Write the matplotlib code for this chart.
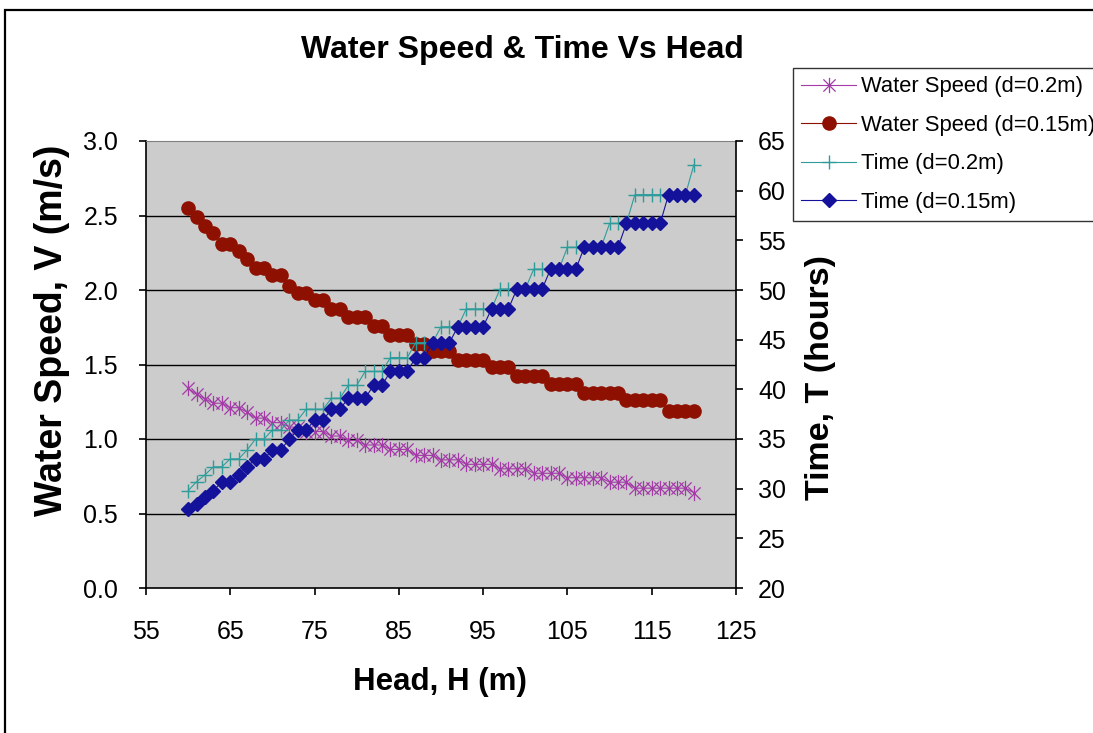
import numpy as np
import matplotlib
matplotlib.use("Agg")
import matplotlib.pyplot as plt
from matplotlib.path import Path
from matplotlib.patches import Rectangle

plt.rcParams["font.family"] = ["Liberation Sans", "DejaVu Sans"]

# ---- data (head 60..120 m, 1 m steps) ----
head = np.arange(60, 121)

speed_02 = [1.34, 1.30, 1.27, 1.24, 1.24, 1.21, 1.21, 1.18, 1.14, 1.14,
            1.11, 1.11, 1.08, 1.08, 1.05, 1.05, 1.05, 1.02, 1.02, 0.99,
            0.99, 0.96, 0.96, 0.96, 0.93, 0.93, 0.93, 0.89, 0.89, 0.89,
            0.86, 0.86, 0.86, 0.83, 0.83, 0.83, 0.83, 0.80, 0.80, 0.80,
            0.80, 0.77, 0.77, 0.77, 0.77, 0.74, 0.74, 0.74, 0.74, 0.74,
            0.71, 0.71, 0.71, 0.67, 0.67, 0.67, 0.67, 0.67, 0.67, 0.67,
            0.64]

speed_015 = [2.55, 2.49, 2.43, 2.38, 2.31, 2.31, 2.26, 2.21, 2.15, 2.15,
             2.10, 2.10, 2.03, 1.98, 1.98, 1.93, 1.93, 1.87, 1.87, 1.82,
             1.82, 1.82, 1.76, 1.76, 1.70, 1.70, 1.70, 1.64, 1.64, 1.59,
             1.59, 1.59, 1.53, 1.53, 1.53, 1.53, 1.48, 1.48, 1.48, 1.42,
             1.42, 1.42, 1.42, 1.37, 1.37, 1.37, 1.37, 1.31, 1.31, 1.31,
             1.31, 1.31, 1.26, 1.26, 1.26, 1.26, 1.26, 1.19, 1.19, 1.19,
             1.19]

time_02 = [29.8, 30.7, 31.4, 32.2, 32.2, 33.0, 33.0, 33.9, 35.0, 35.0,
           35.9, 35.9, 36.9, 36.9, 38.0, 38.0, 38.0, 39.1, 39.1, 40.4,
           40.4, 41.8, 41.8, 41.8, 43.2, 43.2, 43.2, 44.7, 44.7, 44.7,
           46.3, 46.3, 46.3, 48.1, 48.1, 48.1, 48.1, 50.1, 50.1, 50.1,
           50.1, 52.1, 52.1, 52.1, 52.1, 54.3, 54.3, 54.3, 54.3, 54.3,
           56.7, 56.7, 56.7, 59.6, 59.6, 59.6, 59.6, 59.6, 59.6, 59.6,
           62.6]

time_015 = [28.0, 28.5, 29.2, 29.8, 30.7, 30.7, 31.4, 32.2, 33.0, 33.0,
            33.9, 33.9, 35.0, 35.9, 35.9, 36.9, 36.9, 38.0, 38.0, 39.1,
            39.1, 39.1, 40.4, 40.4, 41.8, 41.8, 41.8, 43.2, 43.2, 44.7,
            44.7, 44.7, 46.3, 46.3, 46.3, 46.3, 48.1, 48.1, 48.1, 50.1,
            50.1, 50.1, 50.1, 52.1, 52.1, 52.1, 52.1, 54.3, 54.3, 54.3,
            54.3, 54.3, 56.7, 56.7, 56.7, 56.7, 56.7, 59.6, 59.6, 59.6,
            59.6]

labels = ["Water Speed (d=0.2m)", "Water Speed (d=0.15m)",
          "Time (d=0.2m)", "Time (d=0.15m)"]

# ---- styling ----
W, H = 1093, 733
MAGENTA, RED, TEAL, NAVY = "#a33aa8", "#8e1000", "#2f9c9c", "#14129b"
PLOT_BG = "#cbcccb"

# excel-like asterisk marker: an X with a vertical bar
star = Path([(-0.8, -0.8), (0.8, 0.8), (-0.8, 0.8), (0.8, -0.8), (0, -1), (0, 1)],
            [Path.MOVETO, Path.LINETO, Path.MOVETO, Path.LINETO, Path.MOVETO, Path.LINETO])

fig = plt.figure(figsize=(W / 100, H / 100), dpi=100)
L, R, T, B = 146, 736, 141, 588
ax = fig.add_axes([L / W, 1 - B / H, (R - L) / W, (B - T) / H])
ax2 = ax.twinx()

ax.set_facecolor(PLOT_BG)
ax.set_xlim(55, 125)
ax.set_ylim(0, 3.0)
ax2.set_ylim(20, 65)
ax.set_xticks(np.arange(55, 126, 10))
ax.set_yticks(np.arange(0, 3.01, 0.5))
ax.set_yticklabels([f"{v:.1f}" for v in np.arange(0, 3.01, 0.5)])
ax2.set_yticks(np.arange(20, 66, 5))

for y in np.arange(0.5, 2.51, 0.5):
    ax.axhline(y, color="black", lw=1.0, zorder=0.5)

h1, = ax.plot(head, speed_02, color=MAGENTA, lw=0.8, marker=star, ms=11,
              mew=0.9, mec=MAGENTA, zorder=3)
h2, = ax.plot(head, speed_015, color=RED, lw=0.8, marker="o", ms=9.5,
              mfc=RED, mec=RED, zorder=3)
h3, = ax2.plot(head, time_02, color=TEAL, lw=0.8, marker="+", ms=10.5,
               mew=1.0, zorder=3)
h4, = ax2.plot(head, time_015, color=NAVY, lw=0.8, marker="D", ms=7,
               mfc=NAVY, mec=NAVY, zorder=3)

# spines
for s in ("top", "left", "bottom"):
    ax2.spines[s].set_visible(False)
ax.spines["right"].set_visible(False)
ax.spines["top"].set_color("#808080")
ax.spines["left"].set_linewidth(1.2)
ax.spines["bottom"].set_linewidth(1.2)
ax2.spines["right"].set_linewidth(1.2)

ax.tick_params(axis="x", direction="out", length=5, width=1.2, labelsize=18, pad=18)
ax.tick_params(axis="y", direction="out", length=5, width=1.2, labelsize=18, pad=15)
ax2.tick_params(axis="y", direction="out", length=5, width=1.2, labelsize=18, pad=11)

ax.set_xlabel("Head, H (m)", fontsize=22.5, fontweight="bold")
ax.xaxis.set_label_coords(0.498, -0.177)
ax.set_ylabel("Water Speed, V (m/s)", fontsize=27, fontweight="bold")
ax.yaxis.set_label_coords(-0.128, 0.577)
ax2.set_ylabel("Time, T (hours)", fontsize=24.5, fontweight="bold")
ax2.yaxis.set_label_coords(1.117, 0.472)

fig.text(522 / W, 1 - 50 / H, "Water Speed & Time Vs Head", ha="center",
         va="center", fontsize=23, fontweight="bold")

leg = fig.legend([h1, h2, h3, h4], labels, loc="upper left",
                 bbox_to_anchor=(793 / W, 1 - 68 / H), bbox_transform=fig.transFigure,
                 frameon=True, fancybox=False, shadow=False, fontsize=15.8,
                 borderpad=0.38, labelspacing=0.8, handlelength=2.5,
                 handletextpad=0.2, borderaxespad=0)
leg.get_frame().set_edgecolor("black")
leg.get_frame().set_linewidth(1.0)

# outer chart-area border (right/bottom edges fall outside the image)
fig.add_artist(Rectangle((5 / W, -0.05), 1.1, 1 - 10 / H + 0.05,
                         transform=fig.transFigure, fill=False,
                         ec="black", lw=1.6))

fig.savefig("out.png", dpi=100)
